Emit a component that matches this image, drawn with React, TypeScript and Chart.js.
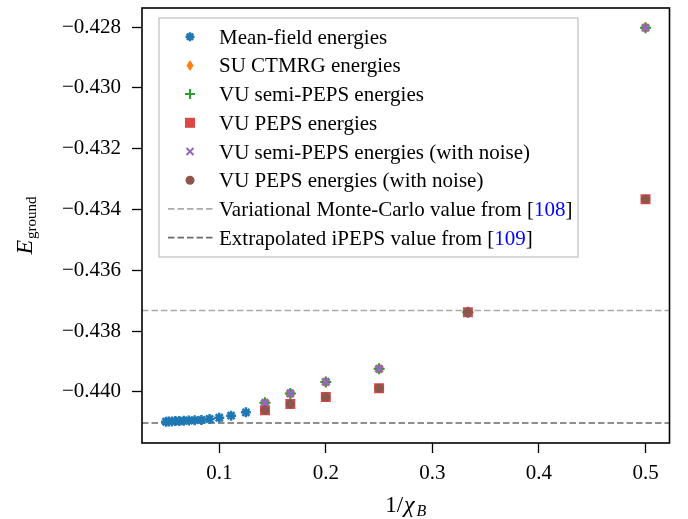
import React, { useEffect, useRef } from 'react';
import { Chart, registerables } from 'chart.js';

Chart.register(...registerables);

// ---------------- data ----------------
const meanFieldX = [0.125, 0.1111, 0.1, 0.0909, 0.0833, 0.0769, 0.0714, 0.0667, 0.0625, 0.0588, 0.0556, 0.0526, 0.05];
const meanFieldY = [-0.44067, -0.44078, -0.44085, -0.44089, -0.44092, -0.44093, -0.44094, -0.44095, -0.44096, -0.44096, -0.44097, -0.44097, -0.44098];

const vuX = [0.1429, 0.1667, 0.2, 0.25, 0.3333, 0.5];
const suCtmrgY = [-0.44036, -0.44005, -0.43967, -0.43924, -0.43738, -0.42802];
const vuSemiPepsY = [-0.44036, -0.44005, -0.43967, -0.43924, -0.43738, -0.42802];
const vuPepsY = [-0.4406, -0.4404, -0.44017, -0.43988, -0.43738, -0.43366];
const vuSemiPepsNoiseY = [-0.44036, -0.44005, -0.43967, -0.43924, -0.43738, -0.42802];
const vuPepsNoiseY = [-0.4406, -0.4404, -0.44017, -0.43988, -0.43738, -0.43366];

const vmcValue = -0.43732;
const ipepsValue = -0.44102;

const xLimits = [0.0275, 0.5225];
const yLimits = [-0.44168, -0.42737];
const xTickValues = [0.1, 0.2, 0.3, 0.4, 0.5];
const yTickValues = [-0.44, -0.438, -0.436, -0.434, -0.432, -0.43, -0.428];

const seriesLabels = [
  'Mean-field energies',
  'SU CTMRG energies',
  'VU semi-PEPS energies',
  'VU PEPS energies',
  'VU semi-PEPS energies (with noise)',
  'VU PEPS energies (with noise)',
];
const lineLabels = [
  ['Variational Monte-Carlo value from [', '108', ']'],
  ['Extrapolated iPEPS value from [', '109', ']'],
];

// ---------------- styles ----------------
const C_BLUE = '#1f77b4';
const C_ORANGE = '#ff7f0e';
const C_GREEN = '#2ca02c';
const C_RED = 'rgba(214,39,40,0.85)';
const C_PURPLE = '#9467bd';
const C_BROWN = '#8c564b';
const C_VMC = '#ababab';
const C_IPEPS = '#6a6a6a';
const FONT = '"Liberation Serif", "Times New Roman", serif';
const DASH = [6.5, 3];

const pts = (xs: number[], ys: number[]) => xs.map((x, i) => ({ x, y: ys[i] }));

function drawMarker(ctx: CanvasRenderingContext2D, kind: string, x: number, y: number) {
  ctx.save();
  ctx.setLineDash([]);
  if (kind === 'star') {
    ctx.strokeStyle = C_BLUE; ctx.lineWidth = 2.5; ctx.beginPath();
    for (let k = 0; k < 4; k++) {
      const a = (k * Math.PI) / 4; const r = 4.5;
      ctx.moveTo(x - Math.cos(a) * r, y - Math.sin(a) * r);
      ctx.lineTo(x + Math.cos(a) * r, y + Math.sin(a) * r);
    }
    ctx.stroke();
  } else if (kind === 'diamond') {
    ctx.fillStyle = C_ORANGE; ctx.beginPath();
    ctx.moveTo(x, y - 5.5); ctx.lineTo(x + 3.5, y); ctx.lineTo(x, y + 5.5); ctx.lineTo(x - 3.5, y); ctx.closePath(); ctx.fill();
  } else if (kind === 'plus') {
    ctx.strokeStyle = C_GREEN; ctx.lineWidth = 2; ctx.beginPath();
    ctx.moveTo(x - 5, y); ctx.lineTo(x + 5, y); ctx.moveTo(x, y - 5); ctx.lineTo(x, y + 5); ctx.stroke();
  } else if (kind === 'square') {
    ctx.fillStyle = C_RED; ctx.fillRect(x - 5, y - 5, 10, 10);
  } else if (kind === 'x') {
    ctx.strokeStyle = C_PURPLE; ctx.lineWidth = 2; ctx.beginPath();
    ctx.moveTo(x - 3.5, y - 3.5); ctx.lineTo(x + 3.5, y + 3.5); ctx.moveTo(x + 3.5, y - 3.5); ctx.lineTo(x - 3.5, y + 3.5); ctx.stroke();
  } else if (kind === 'circle') {
    ctx.fillStyle = C_BROWN; ctx.beginPath(); ctx.arc(x, y, 4.5, 0, Math.PI * 2); ctx.fill();
  }
  ctx.restore();
}

const overlayPlugin = {
  id: 'overlay',
  afterDraw(chart: any) {
    const ctx: CanvasRenderingContext2D = chart.ctx;
    const a = chart.chartArea;
    ctx.save();
    // frame
    ctx.strokeStyle = '#000';
    ctx.lineWidth = 1.6;
    ctx.strokeRect(a.left, a.top, a.right - a.left, a.bottom - a.top);

    // legend box
    const bx = 159, by = 18, bw = 419, bh = 239;
    ctx.fillStyle = 'rgba(255,255,255,0.8)';
    ctx.strokeStyle = '#cccccc';
    ctx.lineWidth = 1.5;
    ctx.beginPath();
    ctx.rect(bx, by, bw, bh);
    ctx.fill();
    ctx.stroke();

    const markers = ['star', 'diamond', 'plus', 'square', 'x', 'circle'];
    const row0 = 36.7, rowH = 28.7;
    ctx.font = `21px ${FONT}`;
    ctx.textBaseline = 'alphabetic';
    ctx.textAlign = 'left';
    seriesLabels.forEach((lab, i) => {
      const cy = row0 + rowH * i;
      drawMarker(ctx, markers[i], 190, cy);
      ctx.fillStyle = '#000';
      ctx.fillText(lab, 219, cy + 7);
    });
    lineLabels.forEach((parts, j) => {
      const cy = row0 + rowH * (6 + j);
      ctx.save();
      ctx.strokeStyle = j === 0 ? C_VMC : C_IPEPS;
      ctx.lineWidth = 1.6;
      ctx.setLineDash(DASH);
      ctx.beginPath();
      ctx.moveTo(168, cy);
      ctx.lineTo(213, cy);
      ctx.stroke();
      ctx.restore();
      let x = 219;
      parts.forEach((p, k) => {
        ctx.fillStyle = k === 1 ? '#0000ff' : '#000';
        ctx.fillText(p, x, cy + 7);
        x += ctx.measureText(p).width;
      });
    });

    // x title: 1/χ_B
    const xc = (a.left + a.right) / 2;
    const xb = 512;
    ctx.fillStyle = '#000';
    ctx.font = `23px ${FONT}`;
    const t1 = '1/';
    const w1 = ctx.measureText(t1).width;
    ctx.font = `italic 24px ${FONT}`;
    const w2 = ctx.measureText('χ').width;
    ctx.font = `italic 16px ${FONT}`;
    const w3 = ctx.measureText('B').width;
    let sx = xc - (w1 + w2 + w3 + 3) / 2;
    ctx.font = `23px ${FONT}`;
    ctx.fillText(t1, sx, xb);
    sx += w1 + 1;
    ctx.font = `italic 24px ${FONT}`;
    ctx.fillText('χ', sx, xb);
    sx += w2 + 2;
    ctx.font = `italic 16px ${FONT}`;
    ctx.fillText('B', sx, xb + 4);

    // y title: E_ground (rotated)
    const yc = (a.top + a.bottom) / 2;
    ctx.font = `italic 24px ${FONT}`;
    const we = ctx.measureText('E').width;
    ctx.font = `15px ${FONT}`;
    const wg = ctx.measureText('ground').width;
    ctx.translate(32, yc + (we + wg + 1) / 2);
    ctx.rotate(-Math.PI / 2);
    ctx.font = `italic 24px ${FONT}`;
    ctx.fillText('E', 0, 0);
    ctx.font = `15px ${FONT}`;
    ctx.fillText('ground', we + 1, 4);
    ctx.restore();
  },
};

const tickGrid = {
  display: true,
  drawOnChartArea: false,
  drawTicks: true,
  tickLength: 10,
  tickColor: '#000',
  tickWidth: 1.3,
};

export default function App() {
  const ref = useRef<HTMLCanvasElement>(null);

  useEffect(() => {
    if (!ref.current) return;
    const scatterBase = { showLine: false, pointHoverRadius: 0 };
    const chart = new Chart(ref.current, {
      type: 'scatter',
      data: {
        datasets: [
          {
            ...scatterBase, label: seriesLabels[0], data: pts(meanFieldX, meanFieldY), order: 0,
            pointStyle: 'star', pointRadius: 5, borderWidth: 2.5, borderColor: C_BLUE, backgroundColor: C_BLUE,
          },
          {
            ...scatterBase, label: seriesLabels[1], data: pts(vuX, suCtmrgY), order: -1,
            pointStyle: 'rectRot', pointRadius: 5.5, borderWidth: 0, borderColor: C_ORANGE, backgroundColor: C_ORANGE,
          },
          {
            ...scatterBase, label: seriesLabels[2], data: pts(vuX, vuSemiPepsY), order: -2,
            pointStyle: 'cross', pointRadius: 5.5, borderWidth: 2, borderColor: C_GREEN, backgroundColor: C_GREEN,
          },
          {
            ...scatterBase, label: seriesLabels[3], data: pts(vuX, vuPepsY), order: -3,
            pointStyle: 'rect', pointRadius: 7.07, borderWidth: 0, borderColor: C_RED, backgroundColor: C_RED,
          },
          {
            ...scatterBase, label: seriesLabels[4], data: pts(vuX, vuSemiPepsNoiseY), order: -4,
            pointStyle: 'crossRot', pointRadius: 5, borderWidth: 3, borderColor: C_PURPLE, backgroundColor: C_PURPLE,
          },
          {
            ...scatterBase, label: seriesLabels[5], data: pts(vuX, vuPepsNoiseY), order: -5,
            pointStyle: 'circle', pointRadius: 4.5, borderWidth: 0, borderColor: C_BROWN, backgroundColor: C_BROWN,
          },
          {
            label: lineLabels[0].join(''), data: pts(xLimits, [vmcValue, vmcValue]), order: 10,
            showLine: true, pointRadius: 0, borderColor: C_VMC, borderWidth: 1.6, borderDash: DASH,
          },
          {
            label: lineLabels[1].join(''), data: pts(xLimits, [ipepsValue, ipepsValue]), order: 11,
            showLine: true, pointRadius: 0, borderColor: C_IPEPS, borderWidth: 1.6, borderDash: DASH,
          },
        ] as any,
      },
      options: {
        animation: false,
        responsive: false,
        devicePixelRatio: 1,
        events: [],
        layout: { padding: { top: 3, right: 18.5, left: 0, bottom: 0 } },
        plugins: { legend: { display: false }, tooltip: { enabled: false } },
        scales: {
          x: {
            type: 'linear',
            min: xLimits[0],
            max: xLimits[1],
            afterBuildTicks: (s: any) => { s.ticks = xTickValues.map((v) => ({ value: v })); },
            afterFit: (s: any) => { s.height = 76; s.paddingLeft = 0; s.paddingRight = 0; },
            grid: tickGrid,
            border: { display: false },
            ticks: {
              autoSkip: false,
              maxRotation: 0,
              padding: 8,
              color: '#000',
              font: { family: FONT, size: 21 },
              callback: (v: any) => Number(v).toFixed(1),
            },
          },
          y: {
            type: 'linear',
            min: yLimits[0],
            max: yLimits[1],
            afterBuildTicks: (s: any) => { s.ticks = yTickValues.map((v) => ({ value: v })); },
            afterFit: (s: any) => { s.width = 142; s.paddingTop = 0; s.paddingBottom = 0; },
            grid: tickGrid,
            border: { display: false },
            ticks: {
              autoSkip: false,
              padding: 11,
              color: '#000',
              font: { family: FONT, size: 21 },
              callback: (v: any) => '\u2212' + Math.abs(Number(v)).toFixed(3),
            },
          },
        },
      } as any,
      plugins: [overlayPlugin],
    });
    return () => chart.destroy();
  }, []);

  return (
    <div style={{ position: 'absolute', left: 0, top: 0, width: 688, height: 519, background: '#fff' }}>
      <canvas ref={ref} width={688} height={519} style={{ display: 'block', width: 688, height: 519 }} />
    </div>
  );
}
